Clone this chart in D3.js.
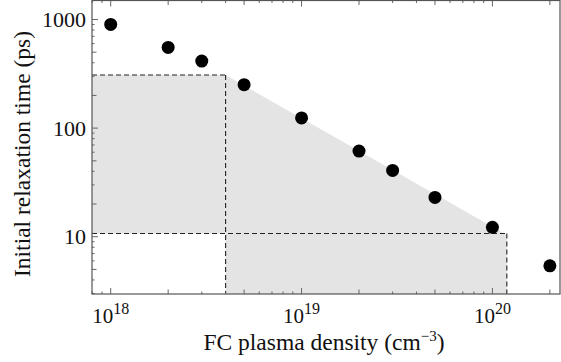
<!DOCTYPE html>
<html lang="en">
<head>
<meta charset="UTF-8">
<script src="https://d3js.org/d3.v7.min.js"></script>
<style>
  body { margin: 0; background: #fff; }
  text { font-family: "Liberation Serif", "Times New Roman", serif; fill: #111; }
</style>
</head>
<body>
<svg width="561" height="362"></svg>
<script>
  // data
  const density = [1e18, 2e18, 3e18, 5e18, 1e19, 2e19, 3e19, 5e19, 1e20, 2e20];
  const relaxTime = [900, 553, 414, 251, 124, 61.5, 40.8, 23, 12.2, 5.4];

  // shaded band: corners in density and time
  const bandDensity = [4e18, 1.19e20];
  const bandTime = [308, 10.7];

  const xTicks = [1e18, 1e19, 1e20];
  const xTickExp = ["18", "19", "20"];
  const yTicks = [10, 100, 1000];
  const yTickLabels = ["10", "100", "1000"];

  const svg = d3.select("svg");
  const mLeft = 92, mRight = 560, mTop = 0.5, mBottom = 294;

  const x = d3.scaleLog().domain([7.98e17, 2.26e20]).range([mLeft, mRight]);
  const y = d3.scaleLog().domain([2.97, 1496]).range([mBottom, mTop]);

  const xMin = x.domain()[0], yMin = y.domain()[0];

  // shaded region
  const area = [
    [xMin, bandTime[0]], [bandDensity[0], bandTime[0]],
    [bandDensity[1], bandTime[0] * bandDensity[0] / bandDensity[1]],
    [bandDensity[1], yMin], [bandDensity[0], yMin],
    [bandDensity[0], bandTime[1]], [xMin, bandTime[1]]
  ];
  svg.append("path")
    .attr("d", d3.line().x(d => x(d[0])).y(d => y(d[1]))(area) + "Z")
    .attr("fill", "#e4e4e4");

  // dashed guides
  const dashes = [
    [[xMin, bandTime[0]], [bandDensity[0], bandTime[0]]],
    [[bandDensity[0], bandTime[0]], [bandDensity[0], yMin]],
    [[xMin, bandTime[1]], [bandDensity[1], bandTime[1]]],
    [[bandDensity[1], bandTime[1]], [bandDensity[1], yMin]]
  ];
  svg.selectAll(".dash").data(dashes).join("line")
    .attr("x1", d => x(d[0][0])).attr("y1", d => y(d[0][1]))
    .attr("x2", d => x(d[1][0])).attr("y2", d => y(d[1][1]))
    .attr("stroke", "#222").attr("stroke-width", 1.1)
    .attr("stroke-dasharray", "5,3");

  // ticks: long at 1, medium at 2 and 5, short elsewhere
  function logTicks(scale) {
    const [a, b] = scale.domain();
    const out = [];
    for (let e = Math.floor(Math.log10(a)); e <= Math.ceil(Math.log10(b)); e++) {
      for (let m = 1; m < 10; m++) {
        const v = m * Math.pow(10, e);
        if (v >= a && v <= b) out.push({ v, len: m === 1 ? 6 : (m === 2 || m === 5 ? 4.5 : 2.5) });
      }
    }
    return out;
  }
  const tickColor = "#666";
  const xt = logTicks(x);
  [mBottom, mTop].forEach((yy, i) => {
    svg.append("g").selectAll("line").data(xt).join("line")
      .attr("x1", d => x(d.v)).attr("x2", d => x(d.v))
      .attr("y1", yy).attr("y2", d => yy + (i === 0 ? -1 : 1) * d.len)
      .attr("stroke", tickColor).attr("stroke-width", 1);
  });
  const yt = logTicks(y);
  svg.append("g").selectAll("line").data(yt).join("line")
    .attr("y1", d => y(d.v)).attr("y2", d => y(d.v))
    .attr("x1", mLeft).attr("x2", d => mLeft + d.len)
    .attr("stroke", tickColor).attr("stroke-width", 1);

  // frame
  svg.append("rect")
    .attr("x", mLeft).attr("y", mTop)
    .attr("width", mRight - mLeft).attr("height", mBottom - mTop)
    .attr("fill", "none").attr("stroke", "#555").attr("stroke-width", 1.2);

  // points
  svg.selectAll(".pt").data(density).join("circle")
    .attr("cx", d => x(d)).attr("cy", (d, i) => y(relaxTime[i]))
    .attr("r", 6.5).attr("fill", "#000");

  // tick labels
  svg.selectAll(".yl").data(yTicks).join("text")
    .attr("x", 86).attr("y", d => y(d) + 7.5)
    .attr("text-anchor", "end").attr("font-size", 22)
    .text((d, i) => yTickLabels[i]);

  const xl = svg.selectAll(".xl").data(xTicks).join("text")
    .attr("x", d => x(d) - 18.5).attr("y", 323)
    .attr("font-size", 21);
  xl.append("tspan").text("10");
  xl.append("tspan").attr("dy", -9).attr("font-size", 16)
    .text((d, i) => xTickExp[i]);

  // axis titles
  const xTitle = svg.append("text").attr("x", 324).attr("y", 350)
    .attr("text-anchor", "middle").attr("font-size", 23.5);
  xTitle.append("tspan").text("FC plasma density (cm");
  xTitle.append("tspan").attr("dy", -9).attr("font-size", 15).text("\u22123");
  xTitle.append("tspan").attr("dy", 9).text(")");

  svg.append("text")
    .attr("transform", `translate(30,${154}) rotate(-90)`)
    .attr("text-anchor", "middle").attr("font-size", 23.5)
    .text("Initial relaxation time (ps)");
</script>
</body>
</html>
